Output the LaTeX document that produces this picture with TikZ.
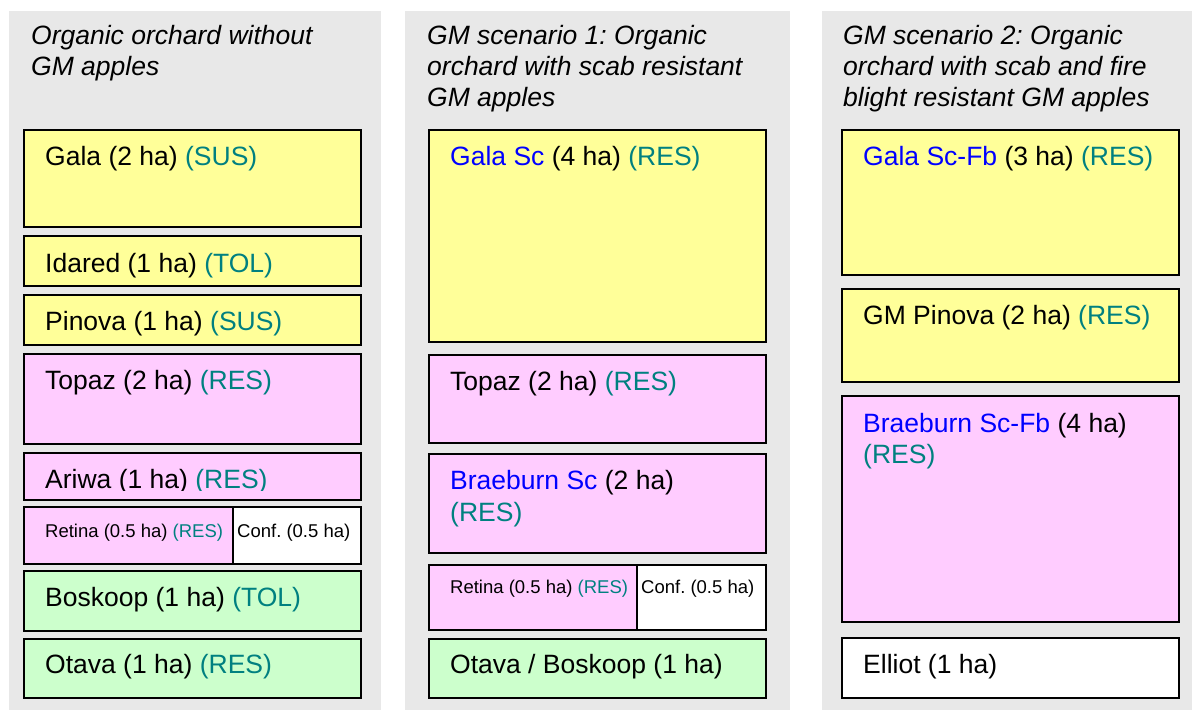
\documentclass[tikz,border=0pt]{standalone}
\usepackage{fontspec}
\setmainfont{Liberation Sans}
\frenchspacing
\definecolor{panelgray}{HTML}{E8E8E8}
\definecolor{yel}{HTML}{FFFF99}
\definecolor{pnk}{HTML}{FFCCFF}
\definecolor{grn}{HTML}{CCFFCC}
\definecolor{tealc}{HTML}{008080}
\definecolor{blu}{HTML}{0000FF}
\tikzset{
 panel/.style={fill=panelgray, draw=none, inner sep=0pt, outer sep=0pt, anchor=north west},
 box/.style={draw=black, line width=1.6pt, inner sep=0pt, outer sep=0pt, anchor=north west},
 lbl/.style={inner sep=0pt, anchor=base west, font=\fontsize{26.5}{31}\selectfont},
 ttl/.style={inner sep=0pt, anchor=base west, font=\fontsize{26.5}{31}\selectfont\itshape},
 sml/.style={inner sep=0pt, anchor=base west, font=\fontsize{18.5}{22}\selectfont},
}
\newcommand\orbox[6]{\node[box, fill=#2, minimum width={(#5-#3)*1pt}, minimum height={(#6-#4)*1pt}] (#1) at (#3,#4) {};}
\newcommand\orpanel[5]{\node[panel, minimum width={(#4-#2)*1pt}, minimum height={(#5-#3)*1pt}] (#1) at (#2,#3) {};}
\newcommand\res{\textcolor{tealc}}
\newcommand\gm{\textcolor{blu}}
\begin{document}
\begin{tikzpicture}[x=1pt,y=-1pt]
\useasboundingbox (0,0) rectangle (1192,711);
% panels
\orpanel{P1}{9}{11}{381}{710}
\orpanel{P2}{405}{11}{790}{710}
\orpanel{P3}{822}{11}{1192}{710}
% titles
\node[ttl] (T1a) at (31,45) {Organic orchard without};
\node[ttl] (T1b) at (31,76) {GM apples};
\node[ttl] (T2a) at (427,45) {GM scenario 1: Organic};
\node[ttl] (T2b) at (427,76) {orchard with scab resistant};
\node[ttl] (T2c) at (427,107) {GM apples};
\node[ttl] (T3a) at (843,45) {GM scenario 2: Organic};
\node[ttl] (T3b) at (843,76) {orchard with scab and fire};
\node[ttl] (T3c) at (843,107) {blight resistant GM apples};
% panel 1
\orbox{g1}{yel}{24}{130}{361}{227}
\node[lbl] (g1t) at (45,166) {Gala (2 ha) \res{(SUS)}};
\orbox{i1}{yel}{24}{236}{361}{286}
\node[lbl] (i1t) at (45,273) {Idared (1 ha) \res{(TOL)}};
\orbox{p1}{yel}{24}{295}{361}{345}
\node[lbl] (p1t) at (45,331) {Pinova (1 ha) \res{(SUS)}};
\orbox{t1}{pnk}{24}{354}{361}{444}
\node[lbl] (t1t) at (45,390) {Topaz (2 ha) \res{(RES)}};
\orbox{a1}{pnk}{24}{453}{361}{500}
\begin{scope}
\clip (24,453) rectangle (361,490);
\node[lbl] (a1t) at (45,488) {Ariwa (1 ha) \res{(RES)}};
\end{scope}
\orbox{r1}{pnk}{24}{507}{233}{564}
\orbox{c1}{white}{233}{507}{361}{564}
\node[sml] (r1t) at (45,537) {Retina (0.5 ha) \res{(RES)}};
\node[sml] (c1t) at (237,537) {Conf. (0.5 ha)};
\orbox{b1}{grn}{24}{571}{361}{631}
\node[lbl] (b1t) at (45,606) {Boskoop (1 ha) \res{(TOL)}};
\orbox{o1}{grn}{24}{639}{361}{698}
\node[lbl] (o1t) at (45,673) {Otava (1 ha) \res{(RES)}};
% panel 2
\orbox{g2}{yel}{429}{130}{766}{342}
\node[lbl] (g2t) at (450,166) {\gm{Gala Sc} (4 ha) \res{(RES)}};
\orbox{t2}{pnk}{429}{355}{766}{443}
\node[lbl] (t2t) at (450,391) {Topaz (2 ha) \res{(RES)}};
\orbox{br2}{pnk}{429}{454}{766}{553}
\node[lbl] (br2a) at (450,489) {\gm{Braeburn Sc} (2 ha)};
\node[lbl] (br2b) at (450,521) {\res{(RES)}};
\orbox{r2}{pnk}{429}{565}{637}{630}
\orbox{c2}{white}{637}{565}{766}{630}
\node[sml] (r2t) at (450,593) {Retina (0.5 ha) \res{(RES)}};
\node[sml] (c2t) at (641,593) {Conf. (0.5 ha)};
\orbox{o2}{grn}{429}{639}{766}{698}
\node[lbl] (o2t) at (450,673) {Otava / Boskoop (1 ha)};
% panel 3
\orbox{g3}{yel}{842}{130}{1179}{275}
\node[lbl] (g3t) at (863,166) {\gm{Gala Sc-Fb} (3 ha) \res{(RES)}};
\orbox{p3}{yel}{842}{289}{1179}{382}
\node[lbl] (p3t) at (863,325) {GM Pinova (2 ha) \res{(RES)}};
\orbox{br3}{pnk}{842}{396}{1179}{622}
\node[lbl] (br3a) at (863,432) {\gm{Braeburn Sc-Fb} (4 ha)};
\node[lbl] (br3b) at (863,463) {\res{(RES)}};
\orbox{e3}{white}{842}{638}{1179}{698}
\node[lbl] (e3t) at (863,673) {Elliot (1 ha)};
\end{tikzpicture}
\end{document}
